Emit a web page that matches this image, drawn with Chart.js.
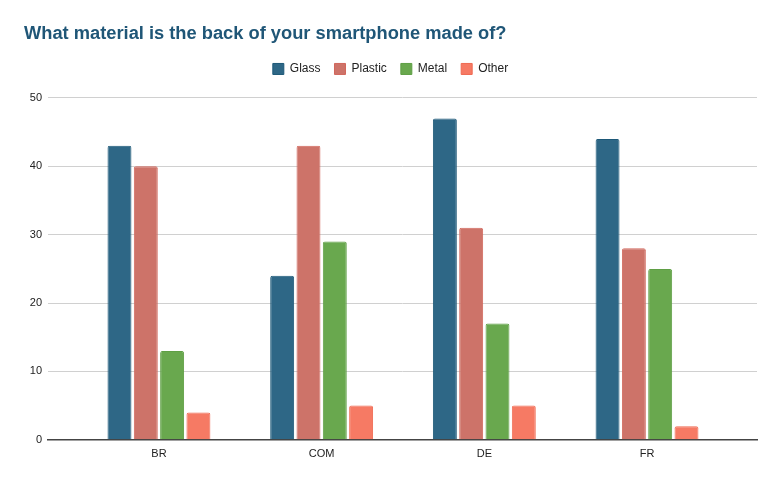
<!DOCTYPE html>
<html>
<head>
<meta charset="utf-8">
<script src="https://cdn.jsdelivr.net/npm/chart.js@4.4.0/dist/chart.umd.min.js"></script>
<style>
  html, body { margin: 0; padding: 0; background: #fff; }
  #wrap { width: 782px; height: 483px; }
</style>
</head>
<body>
<div id="wrap"><canvas id="grafico"></canvas></div>
<script>
// Dados
const categorias = ['BR', 'COM', 'DE', 'FR'];
const glass = [43, 24, 47, 44];
const plastic = [40, 43, 31, 28];
const metal = [13, 29, 17, 25];
const other = [4, 5, 5, 2];
const yTicks = [0, 10, 20, 30, 40, 50];

const series = [
    { label: 'Glass', values: glass, fill: '#2e6786', border: '#1d5878' },
    { label: 'Plastic', values: plastic, fill: '#cd7369', border: '#d2675c' },
    { label: 'Metal', values: metal, fill: '#69a84e', border: '#5f9f45' },
    { label: 'Other', values: other, fill: '#f67a64', border: '#ef6a52' }
];

Chart.defaults.font.family = "'Liberation Sans', Arial, sans-serif";
Chart.defaults.color = '#222';

// espaço extra abaixo da legenda
const legendaMargem = {
    id: 'legendaMargem',
    beforeInit(chart) {
        const fitOriginal = chart.legend.fit;
        chart.legend.fit = function () {
            fitOriginal.bind(chart.legend)();
            this.height += 13;
        };
    }
};

new Chart(document.getElementById('grafico').getContext('2d'), {
    type: 'bar',
    data: {
        datasets: series.map(s => ({
            label: s.label,
            data: s.values.map((v, i) => ({ x: i, y: v })),
            backgroundColor: s.fill,
            borderColor: s.border,
            borderWidth: 1,
            borderSkipped: 'bottom',
            borderRadius: { topLeft: 2, topRight: 2 },
            categoryPercentage: 0.647,
            barPercentage: 0.91
        }))
    },
    options: {
        responsive: true,
        maintainAspectRatio: false,
        animation: false,
        layout: { padding: { top: 23, left: 24, right: 25, bottom: 22 } },
        plugins: {
            title: {
                display: true,
                text: 'What material is the back of your smartphone made of?',
                align: 'start',
                color: '#1f5677',
                font: { size: 18.3, weight: 'bold' },
                padding: { top: 0, bottom: 4 }
            },
            legend: {
                position: 'top',
                labels: {
                    boxWidth: 11,
                    boxHeight: 11,
                    padding: 14,
                    font: { size: 12 },
                    color: '#222'
                }
            },
            tooltip: { enabled: false }
        },
        scales: {
            x: {
                type: 'linear',
                offset: false,
                min: -0.682,
                max: 3.676,
                grid: { display: false },
                border: { color: '#444', width: 1.5 },
                afterBuildTicks: (scale) => {
                    scale.ticks = categorias.map((c, i) => ({ value: i }));
                },
                ticks: {
                    padding: 0,
                    font: { size: 11 },
                    callback: (v) => categorias[v]
                }
            },
            y: {
                min: 0,
                max: 50,
                afterBuildTicks: (scale) => {
                    scale.ticks = yTicks.map(v => ({ value: v }));
                },
                afterFit: (scale) => { scale.width = 24; },
                grid: { color: '#d0d0d0', drawTicks: false },
                border: { display: false },
                ticks: { padding: 6, font: { size: 11 } }
            }
        }
    },
    plugins: [legendaMargem]
});
</script>
</body>
</html>
